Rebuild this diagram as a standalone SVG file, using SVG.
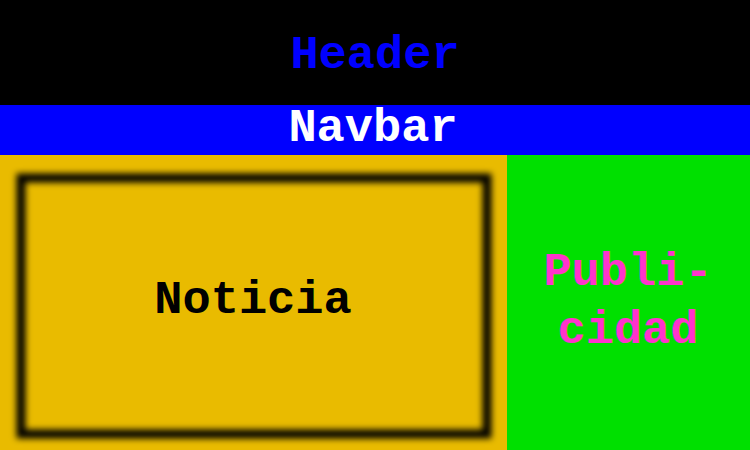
<svg xmlns="http://www.w3.org/2000/svg" width="750" height="450" viewBox="0 0 750 450">
<defs>
<style>
text{font-family:"Liberation Mono","Courier New",monospace;font-weight:bold;font-size:47px;text-anchor:middle}
</style>
<filter id="blur" x="-10%" y="-10%" width="120%" height="120%"><feGaussianBlur stdDeviation="3.2"/></filter>
</defs>
<g id="header"><rect x="0" y="0" width="750" height="105" fill="#000"/><text x="375" y="68" fill="#0000FF">Header</text></g>
<g id="navbar"><rect x="0" y="105" width="750" height="50" fill="#0000FF"/><text x="373" y="141" fill="#FFFFFF">Navbar</text></g>
<g id="main"><rect x="0" y="155" width="507" height="295" fill="#E9BB00"/>
<rect x="21" y="178" width="466" height="256" fill="none" stroke="#000" stroke-width="9" filter="url(#blur)"/>
<text x="253" y="313" fill="#000">Noticia</text></g>
<g id="aside"><rect x="507" y="155" width="243" height="295" fill="#00E000"/>
<text x="628" y="285" fill="#FF33CC">Publi-</text><text x="628" y="343" fill="#FF33CC">cidad</text></g>
<g id="connectors"/>
</svg>
